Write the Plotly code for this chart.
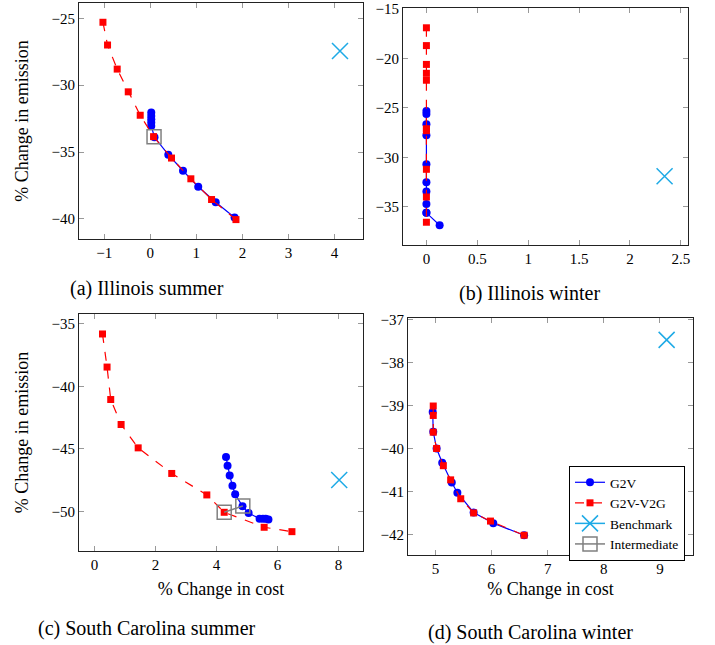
import plotly.graph_objects as go

W, H = 715, 645

# ---------------- data ----------------
# (a) Illinois summer
a_g2v_x = [0.02, 0.02, 0.02, 0.02, 0.02, 0.09, 0.39, 0.71, 1.04, 1.42, 1.83]
a_g2v_y = [-32.05, -32.3, -32.55, -32.8, -33.05, -33.9, -35.2, -36.4, -37.6, -38.75, -39.9]
a_v2g_x = [-1.03, -0.93, -0.72, -0.48, -0.22, 0.07, 0.46, 0.88, 1.33, 1.86]
a_v2g_y = [-25.3, -27.0, -28.8, -30.5, -32.25, -33.85, -35.45, -37.0, -38.55, -40.05]
a_bench_x = [4.12]
a_bench_y = [-27.45]
a_inter_x = [0.08]
a_inter_y = [-33.85]

# (b) Illinois winter
b_g2v_x = [0.0, 0.0, 0.0, 0.0, 0.0, 0.0, 0.0, 0.0, 0.0, 0.0, 0.13]
b_g2v_y = [-25.3, -25.6, -26.65, -27.75, -30.7, -32.5, -33.45, -34.7, -35.6, -35.6, -36.85]
b_v2g_x = [0.0, 0.0, 0.0, 0.0, 0.0, 0.0, 0.0, 0.0, 0.0, 0.0]
b_v2g_y = [-16.9, -18.7, -20.6, -21.5, -22.2, -27.1, -27.3, -31.2, -34.0, -36.55]
b_bench_x = [2.34]
b_bench_y = [-31.9]

# (c) South Carolina summer
c_g2v_x = [4.31, 4.36, 4.43, 4.52, 4.61, 4.85, 5.05, 5.41, 5.52, 5.61, 5.70]
c_g2v_y = [-45.66, -46.35, -47.13, -47.96, -48.63, -49.6, -50.14, -50.59, -50.59, -50.6, -50.66]
c_v2g_x = [0.26, 0.41, 0.53, 0.87, 1.43, 2.53, 3.68, 4.25, 5.56, 6.47]
c_v2g_y = [-35.8, -38.45, -41.05, -43.05, -44.92, -46.97, -48.69, -50.08, -51.28, -51.63]
c_bench_x = [8.02]
c_bench_y = [-47.5]
c_inter_x = [4.25, 4.86]
c_inter_y = [-50.08, -49.57]

# (d) South Carolina winter
d_g2v_x = [4.95, 4.96, 5.02, 5.12, 5.29, 5.39, 5.68, 6.03, 6.58]
d_g2v_y = [-39.15, -39.61, -40.0, -40.33, -40.79, -41.03, -41.49, -41.74, -42.02]
d_v2g_x = [4.96, 4.96, 4.96, 5.02, 5.14, 5.27, 5.45, 5.68, 5.98, 6.58]
d_v2g_y = [-39.01, -39.23, -39.62, -40.0, -40.4, -40.73, -41.17, -41.5, -41.69, -42.02]
d_bench_x = [9.12]
d_bench_y = [-37.47]

captions = ["(a) Illinois summer", "(b) Illinois winter",
            "(c) South Carolina summer", "(d) South Carolina winter"]
y_title = "% Change in emission"
x_title = "% Change in cost"

# ---------------- styles ----------------
FONT = "Liberation Serif, Times New Roman, DejaVu Serif, serif"
BLUE = "#0000FF"
RED = "#FF0000"
CYAN = "#1EAAE6"
GRAY = "#808080"

# panel boxes in pixels: x0, x1, ytop, ybottom
boxes = {
    "a": (79, 363, 3, 239),
    "b": (403, 688, 8, 245),
    "c": (79, 363, 314, 551),
    "d": (408, 693, 318, 555),
}

def dom(b):
    x0, x1, yt, yb = b
    return [x0 / W, x1 / W], [1 - yb / H, 1 - yt / H]

fig = go.Figure()

panels = [
    ("a", "x", "y", a_g2v_x, a_g2v_y, a_v2g_x, a_v2g_y, a_bench_x, a_bench_y, a_inter_x, a_inter_y),
    ("b", "x2", "y2", b_g2v_x, b_g2v_y, b_v2g_x, b_v2g_y, b_bench_x, b_bench_y, [], []),
    ("c", "x3", "y3", c_g2v_x, c_g2v_y, c_v2g_x, c_v2g_y, c_bench_x, c_bench_y, c_inter_x, c_inter_y),
    ("d", "x4", "y4", d_g2v_x, d_g2v_y, d_v2g_x, d_v2g_y, d_bench_x, d_bench_y, [], []),
]

for key, xa, ya, gx, gy, vx, vy, bx, by, ix, iy in panels:
    show = key == "d"
    fig.add_trace(go.Scatter(
        x=gx, y=gy, xaxis=xa, yaxis=ya, mode="lines+markers", name="G2V",
        line=dict(color=BLUE, width=1.2), marker=dict(symbol="circle", size=8, color=BLUE),
        showlegend=show, legendrank=1))
    fig.add_trace(go.Scatter(
        x=vx, y=vy, xaxis=xa, yaxis=ya, mode="lines+markers", name="G2V-V2G",
        line=dict(color=RED, width=1.2, dash="dash"),
        marker=dict(symbol="square", size=7, color=RED),
        showlegend=show, legendrank=2))
    fig.add_trace(go.Scatter(
        x=bx, y=by, xaxis=xa, yaxis=ya, mode="lines+markers", name="Benchmark",
        line=dict(color=CYAN, width=1.5),
        marker=dict(symbol="x-thin-open", size=16, line=dict(color=CYAN, width=1.5), color=CYAN),
        showlegend=show, legendrank=3))
    fig.add_trace(go.Scatter(
        x=ix if ix else [None], y=iy if iy else [None], xaxis=xa, yaxis=ya, mode="lines+markers",
        name="Intermediate", line=dict(color=GRAY, width=1.5),
        marker=dict(symbol="square-open", size=14, line=dict(color=GRAY, width=1.5), color=GRAY),
        showlegend=show, legendrank=4))

axis_common = dict(
    showline=True, linecolor="#222222", linewidth=1, mirror="ticks",
    ticks="inside", ticklen=5, tickcolor="#999999", tickwidth=1,
    showgrid=False, zeroline=False, automargin=False,
    tickfont=dict(family=FONT, size=15, color="black"),
)

ranges = {
    "a": dict(x=[-1.55, 4.62], xt=[-1, 0, 1, 2, 3, 4], y=[-41.5, -23.86], yt=[-40, -35, -30, -25]),
    "b": dict(x=[-0.23, 2.57], xt=[0, 0.5, 1, 1.5, 2, 2.5], y=[-38.85, -14.9], yt=[-35, -30, -25, -20, -15]),
    "c": dict(x=[-0.51, 8.8], xt=[0, 2, 4, 6, 8], y=[-53.18, -34.2], yt=[-50, -45, -40, -35]),
    "d": dict(x=[4.51, 9.59], xt=[5, 6, 7, 8, 9], y=[-42.48, -36.96], yt=[-42, -41, -40, -39, -38, -37]),
}

names = {"a": ("xaxis", "yaxis", "y", "x"), "b": ("xaxis2", "yaxis2", "y2", "x2"),
         "c": ("xaxis3", "yaxis3", "y3", "x3"), "d": ("xaxis4", "yaxis4", "y4", "x4")}

layout_axes = {}
for key, (xn, yn, yanchor, xanchor) in names.items():
    xd, yd = dom(boxes[key])
    r = ranges[key]
    xax = dict(axis_common, domain=xd, range=r["x"], tickvals=r["xt"], anchor=yanchor)
    yax = dict(axis_common, domain=yd, range=r["y"], tickvals=r["yt"], anchor=xanchor)
    if key in ("a", "c"):
        yax["title"] = dict(text=y_title, font=dict(family=FONT, size=18, color="black"), standoff=18)
    if key == "c":
        xax["title"] = dict(text=x_title, font=dict(family=FONT, size=18, color="black"), standoff=10)
    if key == "d":
        xax["title"] = dict(text=x_title, font=dict(family=FONT, size=18, color="black"), standoff=6)
    layout_axes[xn] = xax
    layout_axes[yn] = yax

cap_pos = [(147, 288), (529, 293), (147, 628), (530, 632)]
annotations = []
for text, (cx, cy) in zip(captions, cap_pos):
    annotations.append(dict(
        text=text, x=cx / W, y=1 - cy / H, xref="paper", yref="paper",
        xanchor="center", yanchor="middle", showarrow=False,
        font=dict(family=FONT, size=20, color="black")))

fig.update_layout(
    width=W, height=H, margin=dict(l=0, r=0, t=0, b=0),
    paper_bgcolor="white", plot_bgcolor="white",
    font=dict(family=FONT, color="black"),
    showlegend=True,
    legend=dict(x=569 / W, y=1 - 466 / H, xanchor="left", yanchor="top",
                bgcolor="white", bordercolor="black", borderwidth=1,
                font=dict(family=FONT, size=13.5, color="black"),
                tracegroupgap=0, itemwidth=30),
    annotations=annotations,
    **layout_axes,
)

fig.write_html("out.html", config={"displayModeBar": False},
               post_script="document.body.style.margin='0';")
